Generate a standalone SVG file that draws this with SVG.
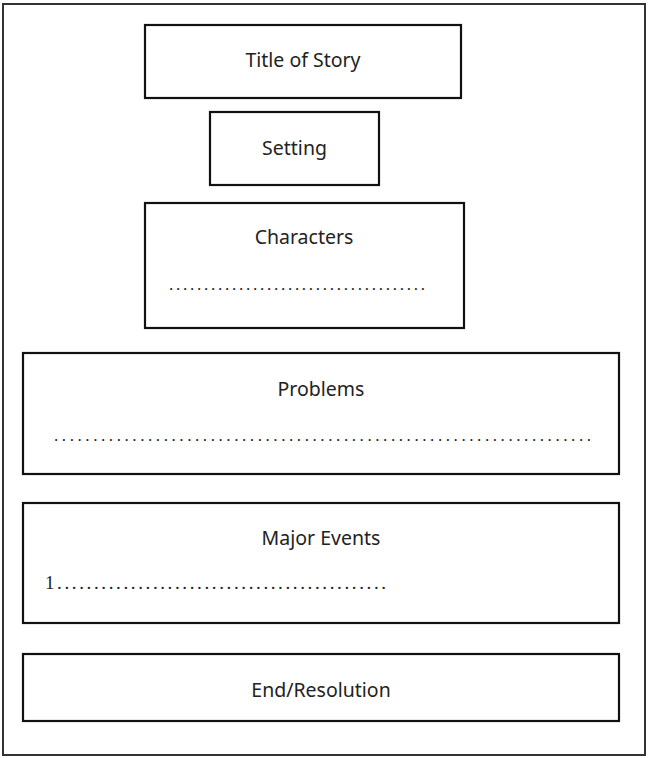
<svg xmlns="http://www.w3.org/2000/svg" width="648" height="758" viewBox="0 0 648 758">
  <style>
    .box { fill: #ffffff; stroke: #111111; stroke-width: 2.2; }
    .frame { fill: #ffffff; stroke: #333333; stroke-width: 2; }
    .lbl { font-family: "Noto Sans", "Open Sans", sans-serif; font-size: 19.5px; fill: #222222; text-anchor: middle; }
    .dots { font-family: "Liberation Serif", serif; font-size: 17px; fill: #222222; }
    .serif { font-family: "Liberation Serif", serif; font-size: 19px; fill: #222222; }
  </style>
  <rect class="frame" x="3" y="4" width="642" height="751"/>
  <g id="connectors"></g>
  <g id="title">
    <rect class="box" x="145" y="25" width="316" height="73"/>
    <text class="lbl" x="303" y="67">Title of Story</text>
  </g>
  <g id="setting">
    <rect class="box" x="210" y="112" width="169" height="73"/>
    <text class="lbl" x="294.5" y="155">Setting</text>
  </g>
  <g id="characters">
    <rect class="box" x="145" y="203" width="319" height="125"/>
    <text class="lbl" x="304" y="244">Characters</text>
    <text class="dots" x="169" y="290" textLength="256" lengthAdjust="spacing">.....................................</text>
  </g>
  <g id="problems">
    <rect class="box" x="23" y="353" width="596" height="121"/>
    <text class="lbl" x="321" y="396">Problems</text>
    <text class="dots" x="54" y="441" textLength="537" lengthAdjust="spacing">.....................................................................</text>
  </g>
  <g id="major-events">
    <rect class="box" x="23" y="503" width="596" height="120"/>
    <text class="lbl" x="321" y="545">Major Events</text>
    <text class="serif" x="45" y="589" textLength="341" lengthAdjust="spacing">1.............................................</text>
  </g>
  <g id="end-resolution">
    <rect class="box" x="23" y="654" width="596" height="67"/>
    <text class="lbl" x="321" y="697">End/Resolution</text>
  </g>
</svg>
